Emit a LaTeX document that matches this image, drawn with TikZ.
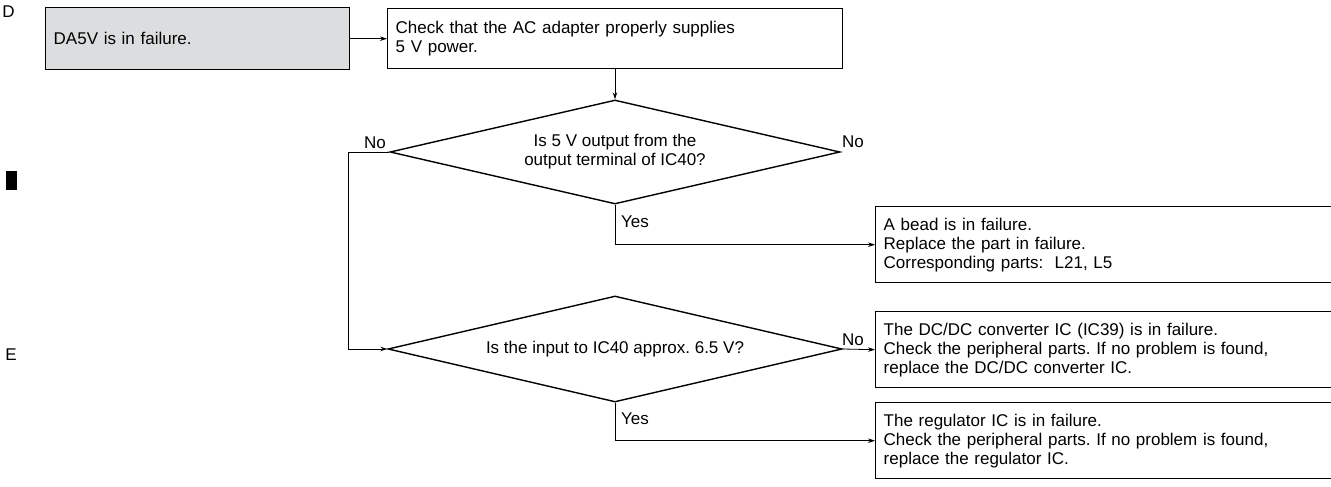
\documentclass[tikz,border=0pt]{standalone}
\usepackage{fontspec}
\setmainfont{Liberation Sans}
\usetikzlibrary{shapes.geometric,arrows.meta}
\definecolor{startgray}{HTML}{DCDDDE}
\frenchspacing
\begin{document}
\begin{tikzpicture}[x=1pt,y=-1pt,
  font=\fontsize{17}{19}\selectfont,
  box/.style={draw, line width=1.4pt, anchor=north west, align=left,
    inner xsep=8pt, inner ysep=0pt},
  decision/.style={draw, diamond, line width=1.4pt, inner sep=0pt, align=center},
  flow/.style={line width=0.8pt, -{Stealth[length=7pt,width=4.5pt]}},
  lbl/.style={inner sep=0pt}
]
\useasboundingbox (0,0) rectangle (1331,487);
\clip (0,0) rectangle (1331,487);

% section markers in the margin
\node[lbl] (secD) at (8.5,12) {D};
\node[lbl] (secE) at (11,355) {E};
\fill (6,171) rectangle (17,190);

% start box and first check
\node[box, fill=startgray, minimum width=304pt, minimum height=62pt,
  text width=288pt] (start) at (45,7) {\raisebox{-3pt}{DA5V is in failure.}};
\node[box, minimum width=455pt, minimum height=60pt, text width=439pt]
  (check) at (387,8) {Check that the AC adapter properly supplies\\5 V power.};

% decisions
\node[decision, minimum width=450pt, minimum height=104pt, aspect=4.33]
  (d1) at (615,152) {Is 5 V output from the\\output terminal of IC40?};
\node[decision, minimum width=454pt, minimum height=106pt, aspect=4.28]
  (d2) at (615,349) {Is the input to IC40 approx. 6.5 V?};

% result boxes (running off the right edge)
\node[box, minimum width=475pt, minimum height=76pt, text width=459pt]
  (bead) at (875,206) {A bead is in failure.\\Replace the part in failure.\\Corresponding parts:\ \ L21, L5};
\node[box, minimum width=475pt, minimum height=76pt, text width=459pt]
  (dcdc) at (875,311) {The DC/DC converter IC (IC39) is in failure.\\Check the peripheral parts. If no problem is found,\\replace the DC/DC converter IC.};
\node[box, minimum width=475pt, minimum height=76pt, text width=459pt]
  (reg) at (875,402) {The regulator IC is in failure.\\Check the peripheral parts. If no problem is found,\\replace the regulator IC.};

% connectors
\coordinate (bendL) at (348,152);
\draw[flow] (start.east) -- (check.west);
\draw[flow] (check.south -| d1.north) -- (d1.north);
\draw[flow] (d1.west) -- (bendL) |- (d2.west);
\draw[flow] (d1.south) |- (bead.west);
\draw[flow] (d2.east) -- (dcdc.west);
\draw[flow] (d2.south) |- (reg.west);

% branch labels
\node[lbl] (no1) at (375,143) {No};
\node[lbl] (no2) at (853,142) {No};
\node[lbl] (yes1) at (635,222) {Yes};
\node[lbl] (no3) at (853,340) {No};
\node[lbl] (yes2) at (635,419) {Yes};
\end{tikzpicture}
\end{document}
